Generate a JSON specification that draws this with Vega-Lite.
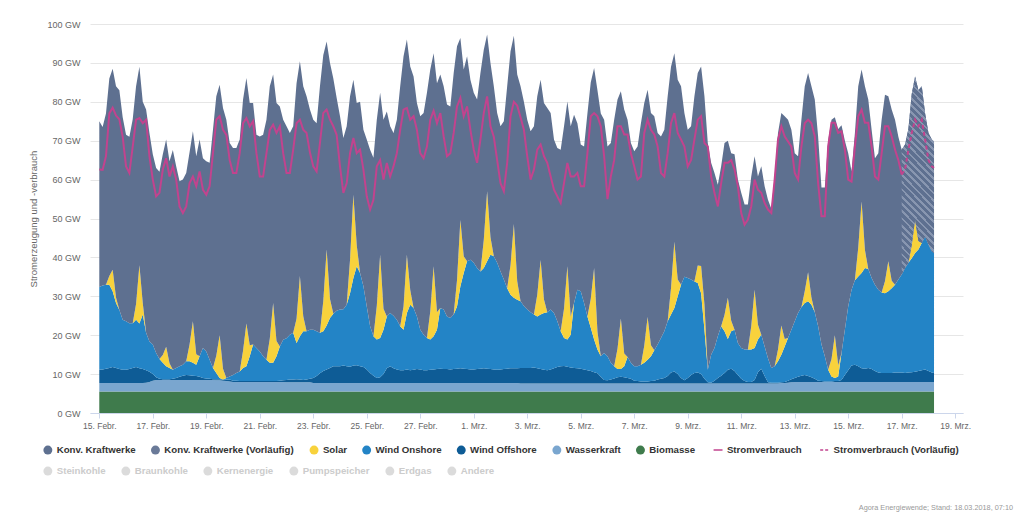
{
"$schema":"https://vega.github.io/schema/vega-lite/v6.json",
"width":873,"height":389,
"autosize":{"type":"none"},
"padding":{"left":90,"top":24,"right":61,"bottom":102},
"background":"white",
"config":{"font":"Liberation Sans","view":{"stroke":null},
"axisY":{"labelOverlap":false,"grid":true,"gridColor":"#e6e6e6","domain":false,"ticks":false,"labelPadding":10,"labelFontSize":9,"labelColor":"#666666","titleFontSize":9.5,"titleFontWeight":"normal","titleColor":"#666666","titlePadding":8},
"axisX":{"grid":false,"domainColor":"#ccd6eb","tickColor":"#ccd6eb","tickSize":5,"labelPadding":3,"labelFontSize":8.5,"labelColor":"#666666","labelFlush":false,"labelOverlap":false}},
"title":{"text":"Agora Energiewende; Stand: 18.03.2018, 07:10","orient":"bottom","anchor":"end","frame":"group","fontSize":7.3,"fontWeight":"normal","color":"#999999","offset":28,"dx":50},
"data":{"format":{"parse":{"t":"date"}},"values":[
{"t":"2018-02-15T00:00","bio":5.5,"wasser":2.2,"off":3.4,"on":21.3,"solar":0,"konv":42.6,"load":62.6},
{"t":"2018-02-15T03:00","bio":5.5,"wasser":2.2,"off":3.5,"on":21.6,"solar":0,"konv":40.7,"load":62.5},
{"t":"2018-02-15T06:00","bio":5.5,"wasser":2.2,"off":3.7,"on":21.6,"solar":0,"konv":44.0,"load":66},
{"t":"2018-02-15T09:00","bio":5.5,"wasser":2.2,"off":3.9,"on":21.4,"solar":2.2,"konv":50.8,"load":77},
{"t":"2018-02-15T12:00","bio":5.5,"wasser":2.2,"off":4.1,"on":19.5,"solar":5.5,"konv":51.7,"load":78.5},
{"t":"2018-02-15T15:00","bio":5.5,"wasser":2.2,"off":3.9,"on":16.7,"solar":1.4,"konv":54.3,"load":76.5},
{"t":"2018-02-15T18:00","bio":5.5,"wasser":2.2,"off":3.6,"on":15.2,"solar":0,"konv":56.5,"load":75.5},
{"t":"2018-02-15T21:00","bio":5.5,"wasser":2.2,"off":3.4,"on":12.9,"solar":0,"konv":52.0,"load":71},
{"t":"2018-02-16T00:00","bio":5.5,"wasser":2.2,"off":3.4,"on":12.5,"solar":0,"konv":47.9,"load":63.4},
{"t":"2018-02-16T03:00","bio":5.5,"wasser":2.2,"off":3.6,"on":11.8,"solar":0,"konv":47.9,"load":61.7},
{"t":"2018-02-16T06:00","bio":5.5,"wasser":2.2,"off":3.9,"on":11.5,"solar":0,"konv":52.4,"load":68.5},
{"t":"2018-02-16T09:00","bio":5.5,"wasser":2.2,"off":4.1,"on":12.2,"solar":4,"konv":56,"load":75.4},
{"t":"2018-02-16T12:00","bio":5.5,"wasser":2.2,"off":3.8,"on":11.5,"solar":15,"konv":51,"load":75.8},
{"t":"2018-02-16T15:00","bio":5.5,"wasser":2.2,"off":3.6,"on":14,"solar":3,"konv":51.7,"load":74.5},
{"t":"2018-02-16T18:00","bio":5.5,"wasser":2.3,"off":3.2,"on":9.6,"solar":0,"konv":57.4,"load":75.4},
{"t":"2018-02-16T21:00","bio":5.5,"wasser":2.5,"off":2.6,"on":7.8,"solar":0,"konv":53.6,"load":66},
{"t":"2018-02-17T00:00","bio":5.5,"wasser":2.8,"off":1.7,"on":7.6,"solar":0,"konv":48.9,"load":60},
{"t":"2018-02-17T03:00","bio":5.5,"wasser":3.0,"off":0.7,"on":6.2,"solar":0,"konv":47.6,"load":55.7},
{"t":"2018-02-17T06:00","bio":5.5,"wasser":3.0,"off":0.3,"on":5.1,"solar":0,"konv":48.1,"load":56.6},
{"t":"2018-02-17T09:00","bio":5.5,"wasser":3.0,"off":0.2,"on":4.2,"solar":2,"konv":51.6,"load":62.6},
{"t":"2018-02-17T12:00","bio":5.5,"wasser":3.0,"off":0.2,"on":3.3,"solar":5,"konv":53.3,"load":65.5},
{"t":"2018-02-17T15:00","bio":5.5,"wasser":3.0,"off":0.2,"on":2.9,"solar":1.2,"konv":51.9,"load":60.8},
{"t":"2018-02-17T18:00","bio":5.5,"wasser":3.0,"off":0.3,"on":2.3,"solar":0,"konv":56.5,"load":63.4},
{"t":"2018-02-17T21:00","bio":5.5,"wasser":3.0,"off":0.5,"on":2.6,"solar":0,"konv":51.8,"load":60},
{"t":"2018-02-18T00:00","bio":5.5,"wasser":3.0,"off":0.8,"on":2.7,"solar":0,"konv":47.6,"load":53.1},
{"t":"2018-02-18T03:00","bio":5.5,"wasser":3.0,"off":1.1,"on":2.8,"solar":0,"konv":47.6,"load":51.4},
{"t":"2018-02-18T06:00","bio":5.5,"wasser":3.0,"off":1.3,"on":3.5,"solar":0,"konv":48.4,"load":53.1},
{"t":"2018-02-18T09:00","bio":5.5,"wasser":3.0,"off":1.2,"on":3.6,"solar":4.3,"konv":49.4,"load":59.1},
{"t":"2018-02-18T12:00","bio":5.5,"wasser":3.0,"off":1.1,"on":3.3,"solar":10.7,"konv":48.8,"load":60.8},
{"t":"2018-02-18T15:00","bio":5.5,"wasser":3.0,"off":1.0,"on":2.9,"solar":2.7,"konv":50.9,"load":58.3},
{"t":"2018-02-18T18:00","bio":5.5,"wasser":3.0,"off":0.8,"on":5.3,"solar":0,"konv":55.7,"load":62.1},
{"t":"2018-02-18T21:00","bio":5.5,"wasser":3.0,"off":0.5,"on":7.7,"solar":0,"konv":48.8,"load":57.4},
{"t":"2018-02-19T00:00","bio":5.5,"wasser":3.0,"off":0.4,"on":6.9,"solar":0,"konv":48.9,"load":56.1},
{"t":"2018-02-19T03:00","bio":5.5,"wasser":3.0,"off":0.3,"on":4.9,"solar":0,"konv":50.6,"load":58.3},
{"t":"2018-02-19T06:00","bio":5.5,"wasser":3.0,"off":0.2,"on":2.9,"solar":0,"konv":61.2,"load":66.8},
{"t":"2018-02-19T09:00","bio":5.5,"wasser":2.9,"off":0.3,"on":1.6,"solar":4.4,"konv":66.7,"load":75.4},
{"t":"2018-02-19T12:00","bio":5.5,"wasser":2.9,"off":0.3,"on":0.3,"solar":11,"konv":64.4,"load":76.3},
{"t":"2018-02-19T15:00","bio":5.5,"wasser":2.8,"off":0.3,"on":0,"solar":2.8,"konv":67,"load":72.8},
{"t":"2018-02-19T18:00","bio":5.5,"wasser":2.7,"off":0.4,"on":0.4,"solar":0,"konv":66.4,"load":71.5},
{"t":"2018-02-19T21:00","bio":5.5,"wasser":2.6,"off":0.5,"on":0.8,"solar":0,"konv":60,"load":65},
{"t":"2018-02-20T00:00","bio":5.5,"wasser":2.5,"off":0.3,"on":1.5,"solar":0,"konv":58.3,"load":61.7},
{"t":"2018-02-20T03:00","bio":5.5,"wasser":2.5,"off":0.3,"on":2.0,"solar":0,"konv":57.8,"load":61.7},
{"t":"2018-02-20T06:00","bio":5.5,"wasser":2.5,"off":0.2,"on":2.5,"solar":0,"konv":59.6,"load":66.8},
{"t":"2018-02-20T09:00","bio":5.5,"wasser":2.5,"off":0.2,"on":3.4,"solar":4.4,"konv":64.6,"load":74.5},
{"t":"2018-02-20T12:00","bio":5.5,"wasser":2.5,"off":0.2,"on":3.8,"solar":11,"konv":63.1,"load":75.8},
{"t":"2018-02-20T15:00","bio":5.5,"wasser":2.5,"off":0.2,"on":6.4,"solar":2.8,"konv":62.3,"load":73.7},
{"t":"2018-02-20T18:00","bio":5.5,"wasser":2.5,"off":0.2,"on":9.4,"solar":0,"konv":62.1,"load":75},
{"t":"2018-02-20T21:00","bio":5.5,"wasser":2.5,"off":0.2,"on":8.5,"solar":0,"konv":54.8,"load":66.8},
{"t":"2018-02-21T00:00","bio":5.5,"wasser":2.5,"off":0.2,"on":7.6,"solar":0,"konv":55.3,"load":60.8},
{"t":"2018-02-21T03:00","bio":5.5,"wasser":2.5,"off":0.2,"on":6.4,"solar":0,"konv":56.9,"load":60.8},
{"t":"2018-02-21T06:00","bio":5.5,"wasser":2.5,"off":0.2,"on":5.5,"solar":0,"konv":61.7,"load":66.8},
{"t":"2018-02-21T09:00","bio":5.5,"wasser":2.5,"off":0.2,"on":4.7,"solar":6.2,"konv":64.9,"load":72.8},
{"t":"2018-02-21T12:00","bio":5.5,"wasser":2.5,"off":0.2,"on":4.7,"solar":15.4,"konv":58.7,"load":74.1},
{"t":"2018-02-21T15:00","bio":5.5,"wasser":2.5,"off":0.2,"on":6.4,"solar":3.9,"konv":61.2,"load":72},
{"t":"2018-02-21T18:00","bio":5.5,"wasser":2.5,"off":0.3,"on":8.8,"solar":0,"konv":61.7,"load":73.7},
{"t":"2018-02-21T21:00","bio":5.5,"wasser":2.5,"off":0.4,"on":10.4,"solar":0,"konv":56.6,"load":66.8},
{"t":"2018-02-22T00:00","bio":5.5,"wasser":2.4,"off":0.6,"on":10.7,"solar":0,"konv":54.5,"load":61.7},
{"t":"2018-02-22T03:00","bio":5.5,"wasser":2.4,"off":0.7,"on":11.5,"solar":0,"konv":51.9,"load":61.7},
{"t":"2018-02-22T06:00","bio":5.5,"wasser":2.4,"off":0.7,"on":12,"solar":0,"konv":53.1,"load":67.7},
{"t":"2018-02-22T09:00","bio":5.5,"wasser":2.4,"off":0.8,"on":9.3,"solar":6.2,"konv":60.6,"load":74.5},
{"t":"2018-02-22T12:00","bio":5.5,"wasser":2.4,"off":0.7,"on":11.1,"solar":15.5,"konv":55.2,"load":75.4},
{"t":"2018-02-22T15:00","bio":5.5,"wasser":2.4,"off":0.6,"on":12.5,"solar":3.9,"konv":59.1,"load":72.8},
{"t":"2018-02-22T18:00","bio":5.5,"wasser":2.4,"off":0.7,"on":12.4,"solar":0,"konv":60.4,"load":72},
{"t":"2018-02-22T21:00","bio":5.5,"wasser":2.4,"off":0.9,"on":12.6,"solar":0,"konv":56.6,"load":67},
{"t":"2018-02-23T00:00","bio":5.5,"wasser":2.2,"off":1.3,"on":12.4,"solar":0,"konv":54,"load":63.4},
{"t":"2018-02-23T03:00","bio":5.5,"wasser":2.2,"off":1.8,"on":11.5,"solar":0,"konv":53.5,"load":62.1},
{"t":"2018-02-23T06:00","bio":5.5,"wasser":2.2,"off":2.5,"on":10.4,"solar":0,"konv":63.4,"load":69.4},
{"t":"2018-02-23T09:00","bio":5.5,"wasser":2.2,"off":3.1,"on":10.2,"solar":7.8,"konv":63.2,"load":77.1},
{"t":"2018-02-23T12:00","bio":5.5,"wasser":2.2,"off":3.5,"on":11.3,"solar":19.5,"konv":53.5,"load":78},
{"t":"2018-02-23T15:00","bio":5.5,"wasser":2.2,"off":3.9,"on":12.8,"solar":4.9,"konv":60.7,"load":75.4},
{"t":"2018-02-23T18:00","bio":5.5,"wasser":2.2,"off":4.3,"on":13.5,"solar":0,"konv":60.5,"load":73.7},
{"t":"2018-02-23T21:00","bio":5.5,"wasser":2.2,"off":4.3,"on":14.3,"solar":0,"konv":54.7,"load":71.5},
{"t":"2018-02-24T00:00","bio":5.5,"wasser":2.2,"off":4.3,"on":14.6,"solar":0,"konv":49.7,"load":63.4},
{"t":"2018-02-24T03:00","bio":5.5,"wasser":2.2,"off":4.5,"on":14.5,"solar":0,"konv":44,"load":56.6},
{"t":"2018-02-24T06:00","bio":5.5,"wasser":2.2,"off":4.3,"on":15.8,"solar":0,"konv":45.9,"load":59.1},
{"t":"2018-02-24T09:00","bio":5.5,"wasser":2.2,"off":4.2,"on":18.9,"solar":8.6,"konv":42,"load":66.8},
{"t":"2018-02-24T12:00","bio":5.5,"wasser":2.2,"off":4.5,"on":22.5,"solar":21.4,"konv":29.6,"load":70.7},
{"t":"2018-02-24T15:00","bio":5.5,"wasser":2.2,"off":4.6,"on":25.4,"solar":5.4,"konv":36.6,"load":66.8},
{"t":"2018-02-24T18:00","bio":5.5,"wasser":2.2,"off":4.3,"on":24,"solar":0,"konv":44,"load":67.7},
{"t":"2018-02-24T21:00","bio":5.5,"wasser":2.2,"off":4.1,"on":20.8,"solar":0,"konv":40.2,"load":62.6},
{"t":"2018-02-25T00:00","bio":5.5,"wasser":2.2,"off":3.5,"on":16.2,"solar":0,"konv":42.9,"load":55.7},
{"t":"2018-02-25T03:00","bio":5.5,"wasser":2.2,"off":2.6,"on":12,"solar":0,"konv":45.4,"load":52.3},
{"t":"2018-02-25T06:00","bio":5.5,"wasser":2.2,"off":1.9,"on":10.1,"solar":0,"konv":45.9,"load":54.8},
{"t":"2018-02-25T09:00","bio":5.5,"wasser":2.2,"off":1.3,"on":9.9,"solar":8.6,"konv":47.9,"load":63.4},
{"t":"2018-02-25T12:00","bio":5.5,"wasser":2.2,"off":1.5,"on":10.1,"solar":21.4,"konv":41.6,"load":65},
{"t":"2018-02-25T15:00","bio":5.5,"wasser":2.2,"off":2.3,"on":11.4,"solar":5.4,"konv":48.6,"load":60},
{"t":"2018-02-25T18:00","bio":5.5,"wasser":2.2,"off":3.8,"on":13.3,"solar":0,"konv":52.7,"load":64.3},
{"t":"2018-02-25T21:00","bio":5.5,"wasser":2.2,"off":4.3,"on":13.7,"solar":0,"konv":48,"load":60.8},
{"t":"2018-02-26T00:00","bio":5.5,"wasser":2.2,"off":3.8,"on":13.5,"solar":0,"konv":47,"load":63.4},
{"t":"2018-02-26T03:00","bio":5.5,"wasser":2.2,"off":3.5,"on":12.8,"solar":0,"konv":51.4,"load":66.8},
{"t":"2018-02-26T06:00","bio":5.5,"wasser":2.2,"off":3.3,"on":11.3,"solar":0,"konv":61.7,"load":72.8},
{"t":"2018-02-26T09:00","bio":5.5,"wasser":2.2,"off":3.3,"on":10.4,"solar":6,"konv":64.3,"load":78},
{"t":"2018-02-26T12:00","bio":5.5,"wasser":2.2,"off":3.5,"on":14.5,"solar":15,"konv":55.3,"load":78.4},
{"t":"2018-02-26T15:00","bio":5.5,"wasser":2.2,"off":3.3,"on":16.8,"solar":3.8,"konv":57.5,"load":75.4},
{"t":"2018-02-26T18:00","bio":5.5,"wasser":2.2,"off":3.4,"on":15.9,"solar":0,"konv":59.5,"load":76.3},
{"t":"2018-02-26T21:00","bio":5.5,"wasser":2.2,"off":3.6,"on":13.5,"solar":0,"konv":54.9,"load":72.8},
{"t":"2018-02-27T00:00","bio":5.5,"wasser":2.2,"off":3.5,"on":10.2,"solar":0,"konv":54.9,"load":66.8},
{"t":"2018-02-27T03:00","bio":5.5,"wasser":2.2,"off":3.3,"on":9.1,"solar":0,"konv":57,"load":65.5},
{"t":"2018-02-27T06:00","bio":5.5,"wasser":2.2,"off":3.3,"on":8.3,"solar":0,"konv":63,"load":68.5},
{"t":"2018-02-27T09:00","bio":5.5,"wasser":2.2,"off":3.4,"on":7.8,"solar":7.2,"konv":62.2,"load":75.4},
{"t":"2018-02-27T12:00","bio":5.5,"wasser":2.2,"off":3.5,"on":8.5,"solar":18,"konv":54.8,"load":77.7},
{"t":"2018-02-27T15:00","bio":5.5,"wasser":2.2,"off":3.6,"on":10.1,"solar":4.5,"konv":58.9,"load":74.5},
{"t":"2018-02-27T18:00","bio":5.5,"wasser":2.2,"off":3.7,"on":15.6,"solar":0,"konv":60,"load":77.1},
{"t":"2018-02-27T21:00","bio":5.5,"wasser":2.2,"off":3.6,"on":15.3,"solar":0,"konv":57.4,"load":71.1},
{"t":"2018-02-28T00:00","bio":5.5,"wasser":2.2,"off":3.6,"on":13.5,"solar":0,"konv":54.5,"load":66},
{"t":"2018-02-28T03:00","bio":5.5,"wasser":2.2,"off":3.5,"on":13.2,"solar":0,"konv":54.4,"load":66.8},
{"t":"2018-02-28T06:00","bio":5.5,"wasser":2.2,"off":3.6,"on":14,"solar":0,"konv":62.1,"load":72},
{"t":"2018-02-28T09:00","bio":5.5,"wasser":2.2,"off":3.7,"on":16,"solar":6.8,"konv":60.1,"load":78.8},
{"t":"2018-02-28T12:00","bio":5.5,"wasser":2.2,"off":3.8,"on":21.1,"solar":17,"konv":46.8,"load":81},
{"t":"2018-02-28T15:00","bio":5.5,"wasser":2.2,"off":3.7,"on":24.6,"solar":4.3,"konv":48,"load":76.3},
{"t":"2018-02-28T18:00","bio":5.5,"wasser":2.2,"off":3.6,"on":27.7,"solar":0,"konv":52.7,"load":78.8},
{"t":"2018-02-28T21:00","bio":5.5,"wasser":2.2,"off":3.5,"on":28.2,"solar":0,"konv":46.3,"load":72.8},
{"t":"2018-03-01T00:00","bio":5.5,"wasser":2.2,"off":3.5,"on":27.4,"solar":0,"konv":43.7,"load":67.7},
{"t":"2018-03-01T03:00","bio":5.5,"wasser":2.2,"off":3.6,"on":26,"solar":0,"konv":43.3,"load":64.3},
{"t":"2018-03-01T06:00","bio":5.5,"wasser":2.2,"off":3.7,"on":25,"solar":0,"konv":51,"load":70.3},
{"t":"2018-03-01T09:00","bio":5.5,"wasser":2.2,"off":3.8,"on":25.8,"solar":7.2,"konv":48.9,"load":77.1},
{"t":"2018-03-01T12:00","bio":5.5,"wasser":2.2,"off":3.7,"on":27.6,"solar":18,"konv":40.3,"load":81.4},
{"t":"2018-03-01T15:00","bio":5.5,"wasser":2.2,"off":3.6,"on":29.4,"solar":4.5,"konv":44.8,"load":73.7},
{"t":"2018-03-01T18:00","bio":5.5,"wasser":2.2,"off":3.5,"on":29.1,"solar":0,"konv":43.7,"load":71},
{"t":"2018-03-01T21:00","bio":5.5,"wasser":2.2,"off":3.4,"on":27.5,"solar":0,"konv":38.5,"load":65},
{"t":"2018-03-02T00:00","bio":5.5,"wasser":2.2,"off":3.5,"on":25.2,"solar":0,"konv":37.3,"load":59.1},
{"t":"2018-03-02T03:00","bio":5.5,"wasser":2.2,"off":3.6,"on":23,"solar":0,"konv":40.7,"load":57},
{"t":"2018-03-02T06:00","bio":5.5,"wasser":2.2,"off":3.7,"on":20.7,"solar":0,"konv":51.9,"load":64.3},
{"t":"2018-03-02T09:00","bio":5.5,"wasser":2.2,"off":3.8,"on":18.9,"solar":7.6,"konv":55,"load":76.3},
{"t":"2018-03-02T12:00","bio":5.5,"wasser":2.2,"off":3.8,"on":18.1,"solar":19,"konv":48.4,"load":80},
{"t":"2018-03-02T15:00","bio":5.5,"wasser":2.2,"off":3.8,"on":17.6,"solar":4.8,"konv":53.1,"load":79},
{"t":"2018-03-02T18:00","bio":5.5,"wasser":2.1,"off":4.0,"on":17.1,"solar":0,"konv":55.3,"load":76},
{"t":"2018-03-02T21:00","bio":5.5,"wasser":2.1,"off":4.0,"on":15.9,"solar":0,"konv":52.5,"load":72.8},
{"t":"2018-03-03T00:00","bio":5.5,"wasser":2.1,"off":4.0,"on":15,"solar":0,"konv":48.8,"load":66},
{"t":"2018-03-03T03:00","bio":5.5,"wasser":2.1,"off":4.0,"on":14.3,"solar":0,"konv":46.5,"load":60},
{"t":"2018-03-03T06:00","bio":5.5,"wasser":2.1,"off":4.1,"on":13.6,"solar":0,"konv":48.4,"load":62.6},
{"t":"2018-03-03T09:00","bio":5.5,"wasser":2.1,"off":3.9,"on":13.3,"solar":5.6,"konv":51,"load":67.7},
{"t":"2018-03-03T12:00","bio":5.5,"wasser":2.1,"off":3.7,"on":14,"solar":14,"konv":46.4,"load":69},
{"t":"2018-03-03T15:00","bio":5.5,"wasser":2.1,"off":3.5,"on":14.6,"solar":3.5,"konv":50.5,"load":66},
{"t":"2018-03-03T18:00","bio":5.5,"wasser":2.1,"off":3.4,"on":14.9,"solar":0,"konv":52.5,"load":64.3},
{"t":"2018-03-03T21:00","bio":5.5,"wasser":2.1,"off":3.6,"on":15.4,"solar":0,"konv":50.5,"load":60.8},
{"t":"2018-03-04T00:00","bio":5.5,"wasser":2.1,"off":3.9,"on":14.2,"solar":0,"konv":44.6,"load":57.4},
{"t":"2018-03-04T03:00","bio":5.5,"wasser":2.1,"off":4.2,"on":11.8,"solar":0,"konv":44.5,"load":55.7},
{"t":"2018-03-04T06:00","bio":5.5,"wasser":2.1,"off":4.4,"on":9,"solar":0,"konv":46.7,"load":54},
{"t":"2018-03-04T09:00","bio":5.5,"wasser":2.1,"off":4.5,"on":7.2,"solar":7.5,"konv":46.9,"load":59.1},
{"t":"2018-03-04T12:00","bio":5.5,"wasser":2.1,"off":4.3,"on":7,"solar":18.8,"konv":42.4,"load":64.3},
{"t":"2018-03-04T15:00","bio":5.5,"wasser":2.1,"off":4.1,"on":8.4,"solar":4.7,"konv":48.9,"load":60.8},
{"t":"2018-03-04T18:00","bio":5.5,"wasser":2.1,"off":4.0,"on":16.7,"solar":0,"konv":48.4,"load":60.8},
{"t":"2018-03-04T21:00","bio":5.5,"wasser":2.1,"off":3.9,"on":20.2,"solar":0,"konv":42.8,"load":61.7},
{"t":"2018-03-05T00:00","bio":5.5,"wasser":2.1,"off":3.8,"on":19.9,"solar":0,"konv":37.7,"load":58.3},
{"t":"2018-03-05T03:00","bio":5.5,"wasser":2.1,"off":3.6,"on":17.1,"solar":0,"konv":40.2,"load":58.3},
{"t":"2018-03-05T06:00","bio":5.5,"wasser":2.1,"off":3.4,"on":13.8,"solar":0,"konv":52.2,"load":66.8},
{"t":"2018-03-05T09:00","bio":5.5,"wasser":2.1,"off":3.2,"on":11.1,"solar":7.4,"konv":55.7,"load":76.3},
{"t":"2018-03-05T12:00","bio":5.5,"wasser":2.1,"off":2.9,"on":8.4,"solar":18.4,"konv":51.4,"load":77.1},
{"t":"2018-03-05T15:00","bio":5.5,"wasser":2.1,"off":2.6,"on":6.1,"solar":4.6,"konv":62.1,"load":76.3},
{"t":"2018-03-05T18:00","bio":5.5,"wasser":2.1,"off":1.7,"on":5.3,"solar":0,"konv":62.4,"load":73.7},
{"t":"2018-03-05T21:00","bio":5.5,"wasser":2.1,"off":0.9,"on":6.9,"solar":0,"konv":60,"load":66},
{"t":"2018-03-06T00:00","bio":5.5,"wasser":2.1,"off":0.8,"on":6.2,"solar":0,"konv":53.9,"load":55},
{"t":"2018-03-06T03:00","bio":5.5,"wasser":2.1,"off":1.0,"on":4.3,"solar":0,"konv":56.5,"load":60.8},
{"t":"2018-03-06T06:00","bio":5.5,"wasser":2.1,"off":1.3,"on":3.1,"solar":0,"konv":63.4,"load":65},
{"t":"2018-03-06T09:00","bio":5.5,"wasser":2.1,"off":1.6,"on":2.1,"solar":5.2,"konv":64.1,"load":73.7},
{"t":"2018-03-06T12:00","bio":5.5,"wasser":2.1,"off":1.7,"on":2.0,"solar":13,"konv":58.4,"load":73.7},
{"t":"2018-03-06T15:00","bio":5.5,"wasser":2.1,"off":1.6,"on":2.8,"solar":3.3,"konv":62.7,"load":71.6},
{"t":"2018-03-06T18:00","bio":5.5,"wasser":2.1,"off":1.4,"on":5.4,"solar":0,"konv":61,"load":71.6},
{"t":"2018-03-06T21:00","bio":5.5,"wasser":2.1,"off":1.2,"on":4.1,"solar":0,"konv":56.5,"load":66.8},
{"t":"2018-03-07T00:00","bio":5.5,"wasser":2.1,"off":0.7,"on":3.7,"solar":0,"konv":55.3,"load":63.4},
{"t":"2018-03-07T03:00","bio":5.5,"wasser":2.1,"off":0.6,"on":3.8,"solar":0,"konv":56.5,"load":60},
{"t":"2018-03-07T06:00","bio":5.5,"wasser":2.1,"off":0.5,"on":4.3,"solar":0,"konv":62.1,"load":60.8},
{"t":"2018-03-07T09:00","bio":5.5,"wasser":2.1,"off":0.5,"on":4.8,"solar":4.4,"konv":62.4,"load":72},
{"t":"2018-03-07T12:00","bio":5.5,"wasser":2.1,"off":0.5,"on":5.6,"solar":11,"konv":58.4,"load":75.4},
{"t":"2018-03-07T15:00","bio":5.5,"wasser":2.1,"off":0.6,"on":6.4,"solar":2.8,"konv":59.7,"load":72.8},
{"t":"2018-03-07T18:00","bio":5.5,"wasser":2.1,"off":0.7,"on":7.8,"solar":0,"konv":60.2,"load":71.6},
{"t":"2018-03-07T21:00","bio":5.5,"wasser":2.1,"off":1.0,"on":9,"solar":0,"konv":54.4,"load":68.5},
{"t":"2018-03-08T00:00","bio":5.5,"wasser":2.1,"off":1.2,"on":10.5,"solar":0,"konv":51.8,"load":61.7},
{"t":"2018-03-08T03:00","bio":5.5,"wasser":2.1,"off":1.4,"on":12,"solar":0,"konv":51.8,"load":60.8},
{"t":"2018-03-08T06:00","bio":5.5,"wasser":2.1,"off":1.9,"on":14.1,"solar":0,"konv":57.8,"load":66.8},
{"t":"2018-03-08T09:00","bio":5.5,"wasser":2.1,"off":2.8,"on":14.9,"solar":6.8,"konv":56.9,"load":74.5},
{"t":"2018-03-08T12:00","bio":5.5,"wasser":2.1,"off":3.1,"on":16.3,"solar":17,"konv":48.5,"load":77.1},
{"t":"2018-03-08T15:00","bio":5.5,"wasser":2.1,"off":2.4,"on":20,"solar":4.3,"konv":51.4,"load":72},
{"t":"2018-03-08T18:00","bio":5.5,"wasser":2.1,"off":1.4,"on":24,"solar":0,"konv":51,"load":70.3},
{"t":"2018-03-08T21:00","bio":5.5,"wasser":2.1,"off":0.8,"on":26.6,"solar":0,"konv":42.1,"load":68.5},
{"t":"2018-03-09T00:00","bio":5.5,"wasser":2.1,"off":1.4,"on":25.7,"solar":0,"konv":38.1,"load":63.4},
{"t":"2018-03-09T03:00","bio":5.5,"wasser":2.1,"off":2.2,"on":24.5,"solar":0,"konv":39.4,"load":65},
{"t":"2018-03-09T06:00","bio":5.5,"wasser":2.1,"off":2.7,"on":23.5,"solar":0,"konv":47.6,"load":70.3},
{"t":"2018-03-09T09:00","bio":5.5,"wasser":2.1,"off":2.8,"on":23,"solar":4.5,"konv":49.5,"load":75.4},
{"t":"2018-03-09T12:00","bio":5.5,"wasser":2.1,"off":2.4,"on":20.8,"solar":7,"konv":51.3,"load":76.3},
{"t":"2018-03-09T15:00","bio":5.5,"wasser":2.1,"off":1.2,"on":12.6,"solar":6.5,"konv":53.5,"load":69.4},
{"t":"2018-03-09T18:00","bio":5.5,"wasser":2.1,"off":0.3,"on":3.2,"solar":0,"konv":58.3,"load":68.5},
{"t":"2018-03-09T21:00","bio":5.5,"wasser":2.1,"off":0.2,"on":7.2,"solar":0,"konv":49.3,"load":60.8},
{"t":"2018-03-10T00:00","bio":5.5,"wasser":2.1,"off":0.7,"on":8.4,"solar":0,"konv":45,"load":56.6},
{"t":"2018-03-10T03:00","bio":5.5,"wasser":2.1,"off":1.4,"on":10.7,"solar":0,"konv":39,"load":53.1},
{"t":"2018-03-10T06:00","bio":5.5,"wasser":2.1,"off":2.0,"on":12.7,"solar":0,"konv":41.1,"load":59.1},
{"t":"2018-03-10T09:00","bio":5.5,"wasser":2.1,"off":2.7,"on":10.7,"solar":4.2,"konv":44.2,"load":64.3},
{"t":"2018-03-10T12:00","bio":5.5,"wasser":2.1,"off":3.5,"on":7.9,"solar":10.6,"konv":40.4,"load":64.3},
{"t":"2018-03-10T15:00","bio":5.5,"wasser":2.1,"off":3.8,"on":9.6,"solar":2.7,"konv":43.1,"load":65},
{"t":"2018-03-10T18:00","bio":5.5,"wasser":2.1,"off":3.2,"on":10.6,"solar":0,"konv":45.1,"load":62.6},
{"t":"2018-03-10T21:00","bio":5.5,"wasser":2.1,"off":2.2,"on":8.2,"solar":0,"konv":42,"load":58.3},
{"t":"2018-03-11T00:00","bio":5.5,"wasser":2.1,"off":1.2,"on":7.9,"solar":0,"konv":39.9,"load":51.4},
{"t":"2018-03-11T03:00","bio":5.5,"wasser":2.1,"off":0.6,"on":8.1,"solar":0,"konv":37.3,"load":48.4},
{"t":"2018-03-11T06:00","bio":5.5,"wasser":2.1,"off":0.4,"on":8.3,"solar":0,"konv":37.3,"load":49.7},
{"t":"2018-03-11T09:00","bio":5.5,"wasser":2.1,"off":0.4,"on":8.3,"solar":6,"konv":38.5,"load":53.1},
{"t":"2018-03-11T12:00","bio":5.5,"wasser":2.1,"off":0.9,"on":8.2,"solar":15,"konv":34.3,"load":60},
{"t":"2018-03-11T15:00","bio":5.5,"wasser":2.1,"off":2.9,"on":8.4,"solar":3.8,"konv":38.1,"load":57.4},
{"t":"2018-03-11T18:00","bio":5.5,"wasser":2.1,"off":3.8,"on":8.7,"solar":0,"konv":43.3,"load":56.6},
{"t":"2018-03-11T21:00","bio":5.5,"wasser":2.1,"off":1.9,"on":7.6,"solar":0,"konv":41.2,"load":54},
{"t":"2018-03-12T00:00","bio":5.5,"wasser":2.1,"off":0.3,"on":6.2,"solar":0,"konv":40.7,"load":52.3},
{"t":"2018-03-12T03:00","bio":5.5,"wasser":2.1,"off":0.2,"on":3.8,"solar":0,"konv":40.9,"load":51.4},
{"t":"2018-03-12T06:00","bio":5.5,"wasser":2.1,"off":0.2,"on":4.2,"solar":0,"konv":48.8,"load":60},
{"t":"2018-03-12T09:00","bio":5.5,"wasser":2.1,"off":0.2,"on":5.5,"solar":3,"konv":55.7,"load":70.3},
{"t":"2018-03-12T12:00","bio":5.5,"wasser":2.2,"off":0.2,"on":7.1,"solar":7.5,"konv":54.6,"load":73.7},
{"t":"2018-03-12T15:00","bio":5.5,"wasser":2.2,"off":0.3,"on":9.1,"solar":1.9,"konv":57.3,"load":71.1},
{"t":"2018-03-12T18:00","bio":5.5,"wasser":2.3,"off":0.5,"on":11,"solar":0,"konv":56.1,"load":69.8},
{"t":"2018-03-12T21:00","bio":5.5,"wasser":2.4,"off":0.8,"on":12.7,"solar":0,"konv":51.4,"load":68.5},
{"t":"2018-03-13T00:00","bio":5.5,"wasser":2.5,"off":1.0,"on":14.6,"solar":0,"konv":43.2,"load":61.7},
{"t":"2018-03-13T03:00","bio":5.5,"wasser":2.5,"off":1.3,"on":16.4,"solar":0,"konv":40.3,"load":60},
{"t":"2018-03-13T06:00","bio":5.5,"wasser":2.5,"off":1.6,"on":17.6,"solar":0,"konv":48.2,"load":68.5},
{"t":"2018-03-13T09:00","bio":5.5,"wasser":2.5,"off":1.8,"on":18.5,"solar":3,"konv":52.7,"load":74.5},
{"t":"2018-03-13T12:00","bio":5.5,"wasser":2.5,"off":1.5,"on":19.2,"solar":7.5,"konv":51.2,"load":75.4},
{"t":"2018-03-13T15:00","bio":5.5,"wasser":2.5,"off":1.2,"on":18.6,"solar":1.9,"konv":54.3,"load":74.5},
{"t":"2018-03-13T18:00","bio":5.5,"wasser":2.5,"off":0.8,"on":17.1,"solar":0,"konv":54.7,"load":71.1},
{"t":"2018-03-13T21:00","bio":5.5,"wasser":2.5,"off":0.3,"on":14,"solar":0,"konv":48.8,"load":59.1},
{"t":"2018-03-14T00:00","bio":5.5,"wasser":2.5,"off":0.2,"on":9.4,"solar":0,"konv":40.4,"load":50.6},
{"t":"2018-03-14T03:00","bio":5.5,"wasser":2.5,"off":0.1,"on":6.5,"solar":0,"konv":43.4,"load":50.6},
{"t":"2018-03-14T06:00","bio":5.5,"wasser":2.5,"off":0.1,"on":3.0,"solar":0,"konv":58.9,"load":68.5},
{"t":"2018-03-14T09:00","bio":5.5,"wasser":2.5,"off":0.1,"on":1.3,"solar":4.4,"konv":61.6,"load":74.6},
{"t":"2018-03-14T12:00","bio":5.5,"wasser":2.5,"off":0.2,"on":0.8,"solar":11,"konv":56,"load":74.6},
{"t":"2018-03-14T15:00","bio":5.5,"wasser":2.5,"off":0.2,"on":1.2,"solar":2.8,"konv":60.8,"load":72},
{"t":"2018-03-14T18:00","bio":5.5,"wasser":2.5,"off":0.5,"on":6.9,"solar":0,"konv":58.6,"load":72.4},
{"t":"2018-03-14T21:00","bio":5.5,"wasser":2.5,"off":1.8,"on":11.6,"solar":0,"konv":48.6,"load":67.7},
{"t":"2018-03-15T00:00","bio":5.5,"wasser":2.5,"off":3.0,"on":16.4,"solar":0,"konv":39.4,"load":60},
{"t":"2018-03-15T03:00","bio":5.5,"wasser":2.5,"off":4.2,"on":19.5,"solar":0,"konv":30.4,"load":59.5},
{"t":"2018-03-15T06:00","bio":5.5,"wasser":2.5,"off":4.4,"on":21.7,"solar":0,"konv":37.9,"load":68.5},
{"t":"2018-03-15T09:00","bio":5.5,"wasser":2.5,"off":4.0,"on":23.1,"solar":7.4,"konv":41.5,"load":76.3},
{"t":"2018-03-15T12:00","bio":5.5,"wasser":2.5,"off":3.5,"on":24.5,"solar":18.4,"konv":33.9,"load":78},
{"t":"2018-03-15T15:00","bio":5.5,"wasser":2.5,"off":3.4,"on":25.9,"solar":4.6,"konv":42.1,"load":74.6},
{"t":"2018-03-15T18:00","bio":5.5,"wasser":2.5,"off":3.6,"on":25.4,"solar":0,"konv":43.6,"load":74.6},
{"t":"2018-03-15T21:00","bio":5.5,"wasser":2.5,"off":3.3,"on":23.4,"solar":0,"konv":38.1,"load":68.5},
{"t":"2018-03-16T00:00","bio":5.5,"wasser":2.5,"off":2.8,"on":22.2,"solar":0,"konv":32.5,"load":60.8},
{"t":"2018-03-16T03:00","bio":5.5,"wasser":2.5,"off":2.4,"on":21.3,"solar":0,"konv":35.1,"load":60},
{"t":"2018-03-16T06:00","bio":5.5,"wasser":2.5,"off":2.3,"on":20.7,"solar":0,"konv":44.4,"load":66.8},
{"t":"2018-03-16T09:00","bio":5.5,"wasser":2.5,"off":2.3,"on":20.5,"solar":3.1,"konv":47.9,"load":73.7},
{"t":"2018-03-16T12:00","bio":5.5,"wasser":2.5,"off":2.3,"on":21,"solar":7.7,"konv":42.4,"load":73.7},
{"t":"2018-03-16T15:00","bio":5.5,"wasser":2.5,"off":2.3,"on":21.8,"solar":1.9,"konv":44,"load":71.1},
{"t":"2018-03-16T18:00","bio":5.5,"wasser":2.5,"off":2.4,"on":22.6,"solar":0,"konv":42.4,"load":67.7},
{"t":"2018-03-16T21:00","bio":5.5,"wasser":2.5,"off":2.4,"on":23.9,"solar":0,"konv":36.7,"load":65},
{"t":"2018-03-17T00:00","bio":5.5,"wasser":2.5,"off":2.4,"on":25.2,"solar":0,"konv":32.1,"load":61.3,"loadV":61.3},
{"t":"2018-03-17T03:00","bio":5.5,"wasser":2.5,"off":2.3,"on":27,"solar":0,"konv":31.7,"loadV":62.6},
{"t":"2018-03-17T06:00","bio":5.5,"wasser":2.5,"off":2.4,"on":28.2,"solar":0,"konv":34.4,"loadV":67.7},
{"t":"2018-03-17T09:00","bio":5.5,"wasser":2.5,"off":2.5,"on":29.3,"solar":3.4,"konv":38.8,"loadV":72},
{"t":"2018-03-17T12:00","bio":5.5,"wasser":2.5,"off":2.6,"on":30.5,"solar":8.6,"konv":36.8,"loadV":75.4},
{"t":"2018-03-17T15:00","bio":5.5,"wasser":2.5,"off":2.8,"on":31.2,"solar":2.2,"konv":38.8,"loadV":73.7},
{"t":"2018-03-17T18:00","bio":5.5,"wasser":2.5,"off":3.0,"on":32.7,"solar":0,"konv":40.3,"loadV":75.4},
{"t":"2018-03-17T21:00","bio":5.5,"wasser":2.5,"off":3.2,"on":34.2,"solar":0,"konv":31.6,"loadV":70.3},
{"t":"2018-03-18T00:00","bio":5.5,"wasser":2.5,"off":2.8,"on":32.5,"solar":0,"konv":28.7,"loadV":65},
{"t":"2018-03-18T03:00","bio":5.5,"wasser":2.5,"off":2.4,"on":31.2,"solar":0,"konv":28.7,"loadV":63.4},
{"t":"2018-03-18T05:00","bio":5.5,"wasser":2.5,"off":2.3,"on":30.8,"solar":0,"konv":28.7,"loadV":63}
]},
"layer":[
{
"transform":[
{"fold":["bio","wasser","off","on","solar","konv"],"as":["series","value"]},
{"calculate":"indexof(['bio','wasser','off','on','solar','konv'], datum.series)","as":"rank"}
],
"mark":{"type":"area","interpolate":"linear"},
"encoding":{
"x":{"field":"t","type":"temporal","title":null,
"scale":{"domain":[{"year":2018,"month":2,"date":14,"hours":15,"minutes":40},{"year":2018,"month":3,"date":19,"hours":7}]},
"axis":{"title":null,
"values":[{"year":2018,"month":2,"date":15},{"year":2018,"month":2,"date":17},{"year":2018,"month":2,"date":19},{"year":2018,"month":2,"date":21},{"year":2018,"month":2,"date":23},{"year":2018,"month":2,"date":25},{"year":2018,"month":2,"date":27},{"year":2018,"month":3,"date":1},{"year":2018,"month":3,"date":3},{"year":2018,"month":3,"date":5},{"year":2018,"month":3,"date":7},{"year":2018,"month":3,"date":9},{"year":2018,"month":3,"date":11},{"year":2018,"month":3,"date":13},{"year":2018,"month":3,"date":15},{"year":2018,"month":3,"date":17},{"year":2018,"month":3,"date":19}],
"labelExpr":"date(datum.value) + (month(datum.value) == 1 ? '. Febr.' : '. Mrz.')"}},
"y":{"field":"value","type":"quantitative","stack":"zero","title":"Stromerzeugung und -verbrauch",
"scale":{"domain":[0,100],"nice":false},
"axis":{"title":"Stromerzeugung und -verbrauch","values":[0,10,20,30,40,50,60,70,80,90,100],"tickCount":11,"labelOverlap":false,"labelExpr":"datum.value + ' GW'"}},
"color":{"field":"series","type":"nominal",
"scale":{"domain":["konv","konvV","solar","on","off","wasser","bio","load","loadV"],
"range":["#5e7090","#6a7a98","#f8d23c","#2384c6","#0e5c96","#7aa6cf","#3f7b4c","#c2438e","#c2438e"]},
"legend":{"orient":"none","legendX":-47,"legendY":421,"direction":"horizontal","title":null,
"labelFontSize":9.7,"labelFontWeight":"bold","labelColor":"#333333","labelLimit":300,"labelOffset":4,
"symbolSize":80,"columnPadding":14.6,
"labelExpr":"{'konv':'Konv. Kraftwerke','konvV':'Konv. Kraftwerke (Vorläufig)','solar':'Solar','on':'Wind Onshore','off':'Wind Offshore','wasser':'Wasserkraft','bio':'Biomasse','load':'Stromverbrauch','loadV':'Stromverbrauch (Vorläufig)'}[datum.value]",
"encode":{
"symbols":{"update":{
"shape":{"signal":"(datum.value === 'load' || datum.value === 'loadV') ? 'stroke' : 'circle'"},
"fill":{"scale":"color","field":"value"},
"stroke":{"scale":"color","field":"value"},
"strokeWidth":{"signal":"(datum.value === 'load' || datum.value === 'loadV') ? 1.5 : 0"},
"strokeDash":{"signal":"datum.value === 'loadV' ? [3,2] : [1,0]"},
"opacity":{"value":1}}}
}}},
"order":{"field":"rank","type":"quantitative","sort":"ascending"}
}
},
{
"transform":[
{"filter":{"field":"t","gte":{"year":2018,"month":3,"date":17}}},
{"fold":["bio","wasser","off","on","solar","konv"],"as":["series","value"]},
{"calculate":"indexof(['bio','wasser','off','on','solar','konv'], datum.series)","as":"rank"}
],
"mark":{"type":"area","interpolate":"linear","fill":{"gradient":"linear","x1":0,"y1":1,"x2":0.19,"y2":-0.135,"stops":[
{"offset":0,"color":"#5e7090"},{"offset":0.0194,"color":"#5e7090"},{"offset":0.0194,"color":"#8896b0"},{"offset":0.0313,"color":"#8896b0"},
{"offset":0.0313,"color":"#5e7090"},{"offset":0.0506,"color":"#5e7090"},{"offset":0.0506,"color":"#8896b0"},{"offset":0.0625,"color":"#8896b0"},
{"offset":0.0625,"color":"#5e7090"},{"offset":0.0819,"color":"#5e7090"},{"offset":0.0819,"color":"#8896b0"},{"offset":0.0938,"color":"#8896b0"},
{"offset":0.0938,"color":"#5e7090"},{"offset":0.1131,"color":"#5e7090"},{"offset":0.1131,"color":"#8896b0"},{"offset":0.125,"color":"#8896b0"},
{"offset":0.125,"color":"#5e7090"},{"offset":0.1444,"color":"#5e7090"},{"offset":0.1444,"color":"#8896b0"},{"offset":0.1563,"color":"#8896b0"},
{"offset":0.1563,"color":"#5e7090"},{"offset":0.1756,"color":"#5e7090"},{"offset":0.1756,"color":"#8896b0"},{"offset":0.1875,"color":"#8896b0"},
{"offset":0.1875,"color":"#5e7090"},{"offset":0.2069,"color":"#5e7090"},{"offset":0.2069,"color":"#8896b0"},{"offset":0.2188,"color":"#8896b0"},
{"offset":0.2188,"color":"#5e7090"},{"offset":0.2381,"color":"#5e7090"},{"offset":0.2381,"color":"#8896b0"},{"offset":0.25,"color":"#8896b0"},
{"offset":0.25,"color":"#5e7090"},{"offset":0.2694,"color":"#5e7090"},{"offset":0.2694,"color":"#8896b0"},{"offset":0.2813,"color":"#8896b0"},
{"offset":0.2813,"color":"#5e7090"},{"offset":0.3006,"color":"#5e7090"},{"offset":0.3006,"color":"#8896b0"},{"offset":0.3125,"color":"#8896b0"},
{"offset":0.3125,"color":"#5e7090"},{"offset":0.3319,"color":"#5e7090"},{"offset":0.3319,"color":"#8896b0"},{"offset":0.3438,"color":"#8896b0"},
{"offset":0.3438,"color":"#5e7090"},{"offset":0.3631,"color":"#5e7090"},{"offset":0.3631,"color":"#8896b0"},{"offset":0.375,"color":"#8896b0"},
{"offset":0.375,"color":"#5e7090"},{"offset":0.3944,"color":"#5e7090"},{"offset":0.3944,"color":"#8896b0"},{"offset":0.4063,"color":"#8896b0"},
{"offset":0.4063,"color":"#5e7090"},{"offset":0.4256,"color":"#5e7090"},{"offset":0.4256,"color":"#8896b0"},{"offset":0.4375,"color":"#8896b0"},
{"offset":0.4375,"color":"#5e7090"},{"offset":0.4569,"color":"#5e7090"},{"offset":0.4569,"color":"#8896b0"},{"offset":0.4688,"color":"#8896b0"},
{"offset":0.4688,"color":"#5e7090"},{"offset":0.4881,"color":"#5e7090"},{"offset":0.4881,"color":"#8896b0"},{"offset":0.5,"color":"#8896b0"},
{"offset":0.5,"color":"#5e7090"},{"offset":0.5194,"color":"#5e7090"},{"offset":0.5194,"color":"#8896b0"},{"offset":0.5313,"color":"#8896b0"},
{"offset":0.5313,"color":"#5e7090"},{"offset":0.5506,"color":"#5e7090"},{"offset":0.5506,"color":"#8896b0"},{"offset":0.5625,"color":"#8896b0"},
{"offset":0.5625,"color":"#5e7090"},{"offset":0.5819,"color":"#5e7090"},{"offset":0.5819,"color":"#8896b0"},{"offset":0.5938,"color":"#8896b0"},
{"offset":0.5938,"color":"#5e7090"},{"offset":0.6131,"color":"#5e7090"},{"offset":0.6131,"color":"#8896b0"},{"offset":0.625,"color":"#8896b0"},
{"offset":0.625,"color":"#5e7090"},{"offset":0.6444,"color":"#5e7090"},{"offset":0.6444,"color":"#8896b0"},{"offset":0.6563,"color":"#8896b0"},
{"offset":0.6563,"color":"#5e7090"},{"offset":0.6756,"color":"#5e7090"},{"offset":0.6756,"color":"#8896b0"},{"offset":0.6875,"color":"#8896b0"},
{"offset":0.6875,"color":"#5e7090"},{"offset":0.7069,"color":"#5e7090"},{"offset":0.7069,"color":"#8896b0"},{"offset":0.7188,"color":"#8896b0"},
{"offset":0.7188,"color":"#5e7090"},{"offset":0.7381,"color":"#5e7090"},{"offset":0.7381,"color":"#8896b0"},{"offset":0.75,"color":"#8896b0"},
{"offset":0.75,"color":"#5e7090"},{"offset":0.7694,"color":"#5e7090"},{"offset":0.7694,"color":"#8896b0"},{"offset":0.7813,"color":"#8896b0"},
{"offset":0.7813,"color":"#5e7090"},{"offset":0.8006,"color":"#5e7090"},{"offset":0.8006,"color":"#8896b0"},{"offset":0.8125,"color":"#8896b0"},
{"offset":0.8125,"color":"#5e7090"},{"offset":0.8319,"color":"#5e7090"},{"offset":0.8319,"color":"#8896b0"},{"offset":0.8438,"color":"#8896b0"},
{"offset":0.8438,"color":"#5e7090"},{"offset":0.8631,"color":"#5e7090"},{"offset":0.8631,"color":"#8896b0"},{"offset":0.875,"color":"#8896b0"},
{"offset":0.875,"color":"#5e7090"},{"offset":0.8944,"color":"#5e7090"},{"offset":0.8944,"color":"#8896b0"},{"offset":0.9063,"color":"#8896b0"},
{"offset":0.9063,"color":"#5e7090"},{"offset":0.9256,"color":"#5e7090"},{"offset":0.9256,"color":"#8896b0"},{"offset":0.9375,"color":"#8896b0"},
{"offset":0.9375,"color":"#5e7090"},{"offset":0.9569,"color":"#5e7090"},{"offset":0.9569,"color":"#8896b0"},{"offset":0.9688,"color":"#8896b0"},
{"offset":0.9688,"color":"#5e7090"},{"offset":0.9881,"color":"#5e7090"},{"offset":0.9881,"color":"#8896b0"},{"offset":1,"color":"#8896b0"}
]}},
"encoding":{
"x":{"field":"t","type":"temporal","title":null},
"y":{"field":"value","type":"quantitative","stack":"zero","title":"Stromerzeugung und -verbrauch",
"axis":{"title":"Stromerzeugung und -verbrauch","values":[0,10,20,30,40,50,60,70,80,90,100],"tickCount":11,"labelOverlap":false,"labelExpr":"datum.value + ' GW'"}},
"detail":{"field":"series"},
"order":{"field":"rank","type":"quantitative","sort":"ascending"},
"opacity":{"condition":{"test":"datum.series === 'konv'","value":1},"value":0}
}
},
{
"transform":[
{"fold":["load","loadV"],"as":["series","value"]},
{"filter":"isValid(datum.value)"}
],
"mark":{"type":"line","strokeWidth":2,"interpolate":"linear"},
"encoding":{
"x":{"field":"t","type":"temporal","title":null},
"y":{"field":"value","type":"quantitative","title":"Stromerzeugung und -verbrauch",
"axis":{"title":"Stromerzeugung und -verbrauch","values":[0,10,20,30,40,50,60,70,80,90,100],"tickCount":11,"labelOverlap":false,"labelExpr":"datum.value + ' GW'"}},
"color":{"field":"series","type":"nominal","legend":null},
"strokeDash":{"condition":{"test":"datum.series === 'loadV'","value":[4,3]},"value":[1,0]}
}
},
{
"transform":[
{"fold":["bio"],"as":["series","value"]},
{"filter":"false"}
],
"mark":{"type":"point","filled":true},
"encoding":{
"x":{"field":"t","type":"temporal","title":null},
"fill":{"field":"series","type":"nominal",
"scale":{"domain":["Steinkohle","Braunkohle","Kernenergie","Pumpspeicher","Erdgas","Andere"],"range":["#cccccc","#cccccc","#cccccc","#cccccc","#cccccc","#cccccc"]},
"legend":{"orient":"none","legendX":-47,"legendY":442,"direction":"horizontal","title":null,
"labelFontSize":9.7,"labelFontWeight":"bold","labelColor":"#cccccc","labelLimit":300,"labelOffset":4,
"symbolSize":80,"symbolType":"circle","symbolStrokeWidth":0,"columnPadding":15}}
}
}
]
}
